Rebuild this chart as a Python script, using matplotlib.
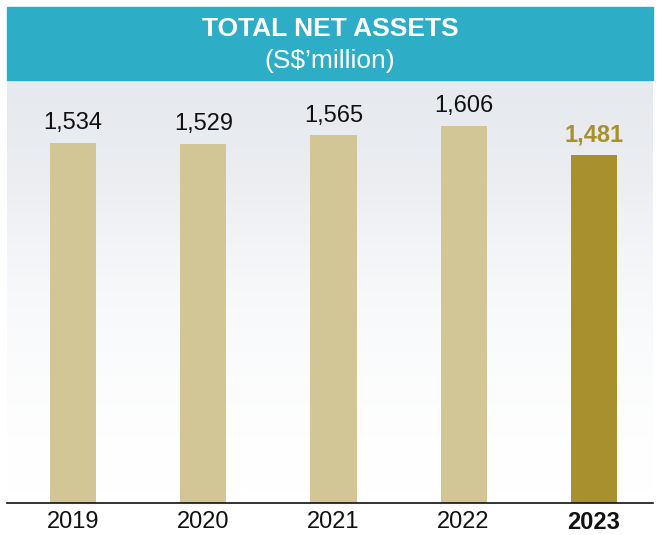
import numpy as np
import matplotlib.pyplot as plt
from matplotlib.patches import Rectangle
from matplotlib.colors import LinearSegmentedColormap

plt.rcParams['font.family'] = ['Liberation Sans', 'DejaVu Sans']

# data
years = ['2019', '2020', '2021', '2022', '2023']
net_assets = [1534, 1529, 1565, 1606, 1481]

W, H = 660, 535
fig = plt.figure(figsize=(W / 100, H / 100), dpi=100)

# header band
fig.patches.append(Rectangle((7 / W, 1 - 80 / H), 646 / W, 73 / H,
                             transform=fig.transFigure, color='#2DADC6', zorder=0))
fig.text(0.5, 1 - 29 / H, 'TOTAL NET ASSETS', ha='center', va='center',
         color='white', fontsize=19, fontweight='bold')
fig.text(0.5, 1 - 61 / H, '(S$\u2019million)', ha='center', va='center',
         color='white', fontsize=19)

ax = fig.add_axes([7 / W, 1 - 503 / H, 646 / W, 423 / H])

# cloudy sky fading to white
sky = LinearSegmentedColormap.from_list('sky', ['#ffffff', '#f7f8fa', '#ebedf1', '#e6e9ed'])
grad = np.linspace(0, 1, 256).reshape(-1, 1) ** 1.6
ax.imshow(grad, cmap=sky, aspect='auto', extent=[0, 1, 0, 1],
          transform=ax.transAxes, origin='lower', zorder=0)

x = np.arange(len(years))
colors = ['#D3C696'] * 4 + ['#A8902F']
bars = ax.bar(x, net_assets, width=0.355, color=colors, zorder=2)

for i, (b, v) in enumerate(zip(bars, net_assets)):
    last = i == len(years) - 1
    ax.annotate(f'{v:,}', (b.get_x() + b.get_width() / 2, v),
                xytext=(0, 6), textcoords='offset points', ha='center', va='bottom',
                fontsize=17, color='#A8902F' if last else '#111111',
                fontweight='bold' if last else 'normal', zorder=3)

ax.set_xlim(-0.508, 4.455)
ax.set_ylim(0, 1800)
ax.set_xticks(x)
ax.set_xticklabels(years, fontsize=17, color='#111111')
ax.get_xticklabels()[-1].set_fontweight('bold')
ax.tick_params(axis='x', length=0, pad=6)
ax.set_yticks([])
for s in ['top', 'left', 'right']:
    ax.spines[s].set_visible(False)
ax.spines['bottom'].set_color('#111111')
ax.spines['bottom'].set_linewidth(1.2)
ax.spines['bottom'].set_zorder(4)

fig.savefig('out.png', dpi=100)
